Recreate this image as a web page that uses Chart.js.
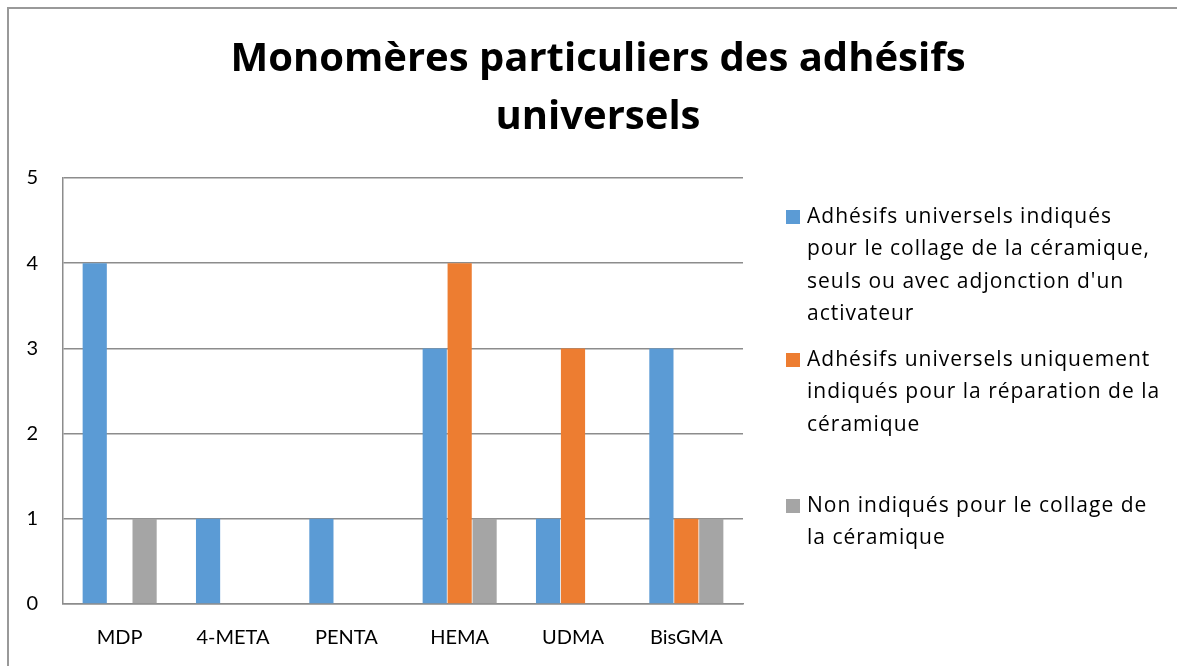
<!DOCTYPE html>
<html>
<head>
<meta charset="utf-8">
<script src="https://cdn.jsdelivr.net/npm/chart.js@4/dist/chart.umd.min.js"></script>
<style>
  html, body { margin: 0; padding: 0; background: #fff; }
  #cadre { position: relative; width: 1183px; height: 666px; }
  #bordure { position: absolute; left: 7px; top: 7px; width: 1168px; height: 700px;
             border-left: 2px solid #999; border-top: 2px solid #999; pointer-events: none; }
</style>
</head>
<body>
<div id="cadre">
  <canvas id="grafico" width="1183" height="666"></canvas>
  <div id="bordure"></div>
</div>
<script>
const categorias = ['MDP', '4-META', 'PENTA', 'HEMA', 'UDMA', 'BisGMA'];
const valoresCollage = [4, 1, 1, 3, 1, 3];
const valoresReparation = [0, 0, 0, 4, 3, 1];
const valoresNonIndiques = [1, 0, 0, 1, 0, 1];
const ticksY = [0, 1, 2, 3, 4, 5];

const titreLignes = ['Monomères particuliers des adhésifs', 'universels'];
const legendeLignes = [
    ['Adhésifs universels indiqués', 'pour le collage de la céramique,', 'seuls ou avec adjonction d\'un', 'activateur'],
    ['Adhésifs universels uniquement', 'indiqués pour la réparation de la', 'céramique'],
    ['Non indiqués pour le collage de', 'la céramique']
];
const couleurs = ['#5B9BD5', '#ED7D31', '#A5A5A5'];

const police = 'Lato, "Open Sans", sans-serif';
const policeTexte = '"Open Sans", Lato, sans-serif';

// titre + légende dessinés à la main (lignes coupées comme dans l'original)
const pluginTexte = {
    id: 'pluginTexte',
    afterDraw(chart) {
        const ctx = chart.ctx;
        ctx.save();
        ctx.fillStyle = '#000';
        ctx.textAlign = 'center';
        ctx.textBaseline = 'middle';
        ctx.font = 'bold 40px ' + policeTexte;
        titreLignes.forEach((t, i) => ctx.fillText(t, 598, 60 + i * 58));

        ctx.font = '21px ' + policeTexte;
        ctx.letterSpacing = '1px';
        ctx.textAlign = 'left';
        const debuts = [217, 360, 506];
        legendeLignes.forEach((lignes, i) => {
            ctx.fillStyle = couleurs[i];
            ctx.fillRect(786, debuts[i] - 7, 14, 14);
            ctx.fillStyle = '#000';
            lignes.forEach((l, j) => ctx.fillText(l, 807, debuts[i] + j * 32.5));
        });
        ctx.restore();
    }
};

const crearDataset = (label, data, color) => ({
    label: label,
    data: data,
    backgroundColor: color,
    borderWidth: 0,
    barPercentage: 0.97,
    categoryPercentage: 0.66
});

new Chart(document.getElementById('grafico').getContext('2d'), {
    type: 'bar',
    data: {
        labels: categorias,
        datasets: [
            crearDataset(legendeLignes[0].join(' '), valoresCollage, couleurs[0]),
            crearDataset(legendeLignes[1].join(' '), valoresReparation, couleurs[1]),
            crearDataset(legendeLignes[2].join(' '), valoresNonIndiques, couleurs[2])
        ]
    },
    options: {
        responsive: false,
        animation: false,
        layout: { padding: { top: 178, right: 440, left: 0, bottom: 0 } },
        plugins: {
            legend: { display: false },
            title: { display: false },
            tooltip: { enabled: false }
        },
        scales: {
            x: {
                grid: { display: false, drawTicks: false },
                border: { display: true, color: '#8c8c8c', width: 1.5 },
                ticks: { color: '#000', font: { size: 20, family: police }, padding: 22 },
                afterFit: (scale) => { scale.height = 62; }
            },
            y: {
                min: 0,
                max: 5,
                afterBuildTicks: (scale) => { scale.ticks = ticksY.map(v => ({ value: v })); },
                grid: { color: '#8c8c8c', lineWidth: 1.5, drawTicks: false },
                border: { display: true, color: '#8c8c8c', width: 1.5 },
                ticks: { color: '#000', font: { size: 20, family: police }, padding: 25 },
                afterFit: (scale) => { scale.width = 63; }
            }
        }
    },
    plugins: [pluginTexte]
});
</script>
</body>
</html>
